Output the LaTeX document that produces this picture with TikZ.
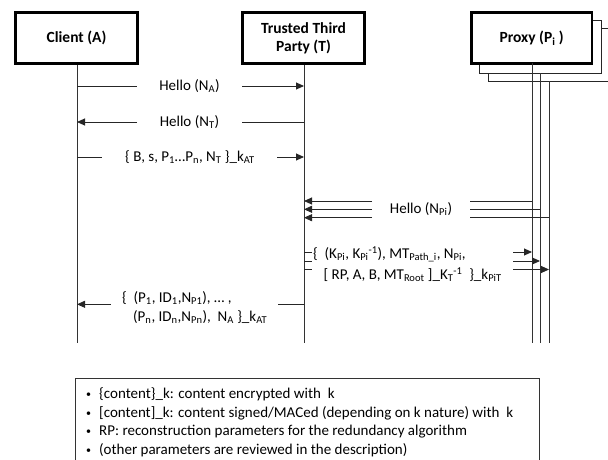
\documentclass[tikz,border=0pt]{standalone}
\usepackage{fontspec}
\setmainfont{Carlito}
\usetikzlibrary{arrows.meta}
\newcommand{\sbs}[1]{\textsubscript{#1}}
\newcommand{\sps}[1]{\textsuperscript{#1}}
\newcommand{\bul}{\makebox[13pt][l]{\raisebox{1.2pt}{\fontsize{10}{10}\selectfont •}}}
\begin{document}
\begin{tikzpicture}[x=1pt,y=-1pt,
  actor/.style={draw=black, line width=2.8pt, fill=white, minimum width=122pt,
    minimum height=51pt, inner sep=0pt, align=center,
    font=\fontsize{15.5}{17.7}\selectfont\bfseries},
  shadowbox/.style={draw=black!85, line width=0.9pt, fill=white, inner sep=0pt},
  life/.style={draw=black!80, line width=0.9pt},
  msg/.style={draw=black!85, line width=0.9pt},
  arr/.style={msg, -{Triangle[length=8pt,width=7pt]}},
  lbl/.style={inner sep=0pt, font=\fontsize{15}{17.5}\selectfont},
  legend/.style={draw=black!80, line width=0.9pt},
]
\useasboundingbox (0,0) rectangle (608,459);
\clip (0,0) rectangle (608,459);

% actors
\node[actor] (A) at (76.5,38) {Client (A)};
\node[actor] (T) at (303.5,38) {Trusted Third\\Party (T)};
\node[shadowbox, minimum width=132pt, minimum height=53pt] (P3) at (554,54.5) {};
\node[shadowbox, minimum width=122pt, minimum height=53pt] (P2) at (540,46.5) {};
\node[actor, minimum width=120.5pt] (P) at (531.7,38) {Proxy (P\sbs{i} )};

% lifelines
\coordinate (Aend) at (77,343);
\coordinate (Tend) at (304,343);
\coordinate (P1top) at (532,63);
\coordinate (P1end) at (532,343);
\coordinate (P2top) at (540,73);
\coordinate (P2end) at (540,343);
\coordinate (P3top) at (549,81);
\coordinate (P3end) at (549,343);
\draw[life] (A.south -| Aend) -- (Aend);
\draw[life] (T.south -| Tend) -- (Tend);
\draw[life] (P1top) -- (P1end);
\draw[life] (P2top) -- (P2end);
\draw[life] (P3top) -- (P3end);

% message 1
\node[lbl] (m1) at (189.5,86) {Hello (N\sbs{A})};
\coordinate (m1l) at (137,86);
\coordinate (m1r) at (242,86);
\draw[msg] (Aend |- m1) -- (m1l);
\draw[arr] (m1r) -- (Tend |- m1);

% message 2
\node[lbl] (m2) at (189.5,122) {Hello (N\sbs{T})};
\coordinate (m2l) at (137,122);
\coordinate (m2r) at (242,122);
\draw[msg] (Tend |- m2) -- (m2r);
\draw[arr] (m2l) -- (Aend |- m2);

% message 3
\node[lbl] (m3) at (190,157) {\{ B, s, P\sbs{1}…P\sbs{n}, N\sbs{T} \}\_k\sbs{AT}};
\coordinate (m3l) at (101.5,157);
\coordinate (m3r) at (277,157);
\draw[msg] (Aend |- m3) -- (m3l);
\draw[arr] (m3r) -- (Tend |- m3);

% message 4 (three proxies)
\node[lbl] (m4) at (421,209) {Hello (N\sbs{Pi})};
\coordinate (m4a) at (372,201);
\coordinate (m4b) at (372,209.3);
\coordinate (m4c) at (372,217.7);
\coordinate (m4d) at (470,201);
\coordinate (m4e) at (470,209.3);
\coordinate (m4f) at (470,217.7);
\draw[msg] (P1end |- m4d) -- (m4d);
\draw[msg] (P2end |- m4e) -- (m4e);
\draw[msg] (P3end |- m4f) -- (m4f);
\draw[arr] (m4a) -- (Tend |- m4a);
\draw[arr] (m4b) -- (Tend |- m4b);
\draw[arr] (m4c) -- (Tend |- m4c);

% message 5
\node[lbl, anchor=west] (m5a) at (313,254.5) {\{~~(K\sbs{Pi}, K\sbs{Pi}\sps{-1}), MT\sbs{Path\_i}, N\sbs{Pi},};
\node[lbl, anchor=west] (m5b) at (323.5,274.5) {[ RP, A, B, MT\sbs{Root} ]\_K\sbs{T}\sps{-1}~~\}\_k\sbs{PiT}};
\coordinate (m5s1) at (311.5,252);
\coordinate (m5s2) at (311.5,261);
\coordinate (m5s3) at (311.5,269.5);
\coordinate (m5r1) at (513,252);
\coordinate (m5r2) at (513,261);
\coordinate (m5r3) at (513,269.5);
\draw[msg] (Tend |- m5s1) -- (m5s1);
\draw[msg] (Tend |- m5s2) -- (m5s2);
\draw[msg] (Tend |- m5s3) -- (m5s3);
\draw[arr] (m5r1) -- (P1end |- m5r1);
\draw[arr] (m5r2) -- (P2end |- m5r2);
\draw[arr] (m5r3) -- (P3end |- m5r3);

% message 6
\node[lbl, anchor=west] (m6a) at (122,297.7) {\{~ (P\sbs{1}, ID\sbs{1},N\sbs{P1}), … ,};
\node[lbl, anchor=west] (m6b) at (133,316.7) {(P\sbs{n}, ID\sbs{n},N\sbs{Pn}),~ N\sbs{A} \}\_k\sbs{AT}};
\coordinate (m6l) at (110.5,304.3);
\coordinate (m6r) at (278,304.3);
\draw[msg] (Tend |- m6r) -- (m6r);
\draw[arr] (m6l) -- (Aend |- m6l);

% legend
\coordinate (lg1) at (75,378.3);
\coordinate (lg2) at (539.5,480);
\draw[legend] (lg1) rectangle (lg2);
\node[lbl, anchor=west] (l1) at (86,394.3) {\bul\{content\}\_k: content encrypted with~ k};
\node[lbl, anchor=west] (l2) at (86,413) {\bul[content]\_k: content signed/MACed (depending on k nature) with~ k};
\node[lbl, anchor=west] (l3) at (86,431.7) {\bul RP: reconstruction parameters for the redundancy algorithm};
\node[lbl, anchor=west] (l4) at (86,450.3) {\bul(other parameters are reviewed in the description)};
\end{tikzpicture}
\end{document}
